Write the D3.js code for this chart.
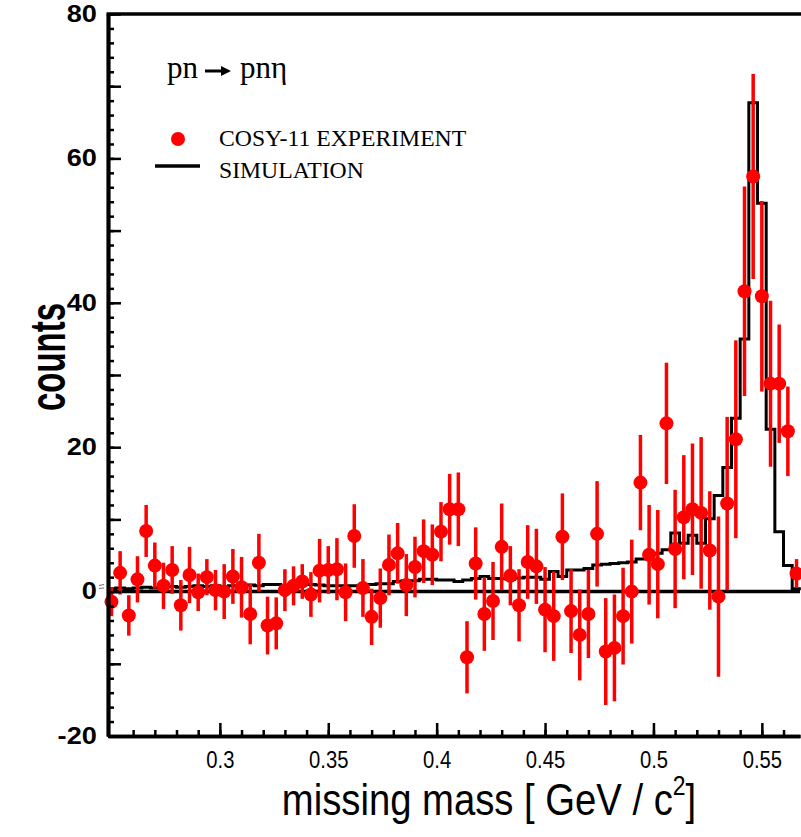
<!DOCTYPE html>
<html>
<head>
<meta charset="utf-8">
<script src="https://cdn.jsdelivr.net/npm/d3@7"></script>
<style>
    body { margin: 0; background: #fff; }
    svg { display: block; }
</style>
</head>
<body>
<svg width="801" height="837"></svg>
<script>
// bin centres of the missing mass spectrum [GeV/c^2]
var massX = [0.250, 0.254, 0.258, 0.262, 0.266, 0.270, 0.274, 0.278, 0.282, 0.286,
    0.290, 0.294, 0.298, 0.302, 0.306, 0.310, 0.314, 0.318, 0.322, 0.326,
    0.330, 0.334, 0.338, 0.342, 0.346, 0.350, 0.354, 0.358, 0.362, 0.366,
    0.370, 0.374, 0.378, 0.382, 0.386, 0.390, 0.394, 0.398, 0.402, 0.406,
    0.410, 0.414, 0.418, 0.422, 0.426, 0.430, 0.434, 0.438, 0.442, 0.446,
    0.450, 0.454, 0.458, 0.462, 0.466, 0.470, 0.474, 0.478, 0.482, 0.486,
    0.490, 0.494, 0.498, 0.502, 0.506, 0.510, 0.514, 0.518, 0.522, 0.526,
    0.530, 0.534, 0.538, 0.542, 0.546, 0.550, 0.554, 0.558, 0.562, 0.566];
var binWidth = 0.004;

// COSY-11 experiment
var expCounts = [-1.4, 2.6, -3.3, 1.7, 8.4, 3.6, 0.8, 3.0, -1.9, 2.3,
    -0.1, 2.0, 0.2, 0.0, 2.1, 0.6, -3.1, 4.0, -4.7, -4.4,
    0.2, 0.8, 1.4, -0.4, 2.9, 3.0, 3.1, -0.1, 7.7, 0.5,
    -3.5, -0.9, 3.7, 5.3, 0.9, 3.4, 5.6, 5.1, 8.3, 11.4,
    11.4, -9.1, 3.9, -3.1, -1.3, 6.2, 2.2, -1.9, 4.1, 3.5,
    -2.5, -3.4, 7.6, -2.7, -6.0, -3.1, 8.0, -8.3, -7.8, -3.4,
    0.0, 15.1, 5.1, 3.8, 23.3, 5.9, 10.3, 11.4, 10.9, 5.7,
    -0.7, 12.2, 21.1, 41.6, 57.5, 40.9, 28.8, 28.8, 22.2, 2.5];
var expErrors = [2.0, 3.0, 2.8, 3.2, 3.6, 3.2, 3.2, 3.3, 3.5, 3.9,
    2.6, 2.5, 2.8, 3.8, 3.8, 4.2, 4.2, 4.0, 4.0, 3.6,
    2.9, 2.7, 2.4, 3.1, 4.4, 3.3, 4.3, 4.0, 4.4, 4.0,
    3.9, 4.1, 4.2, 4.2, 4.3, 4.2, 4.4, 4.2, 4.1, 4.9,
    5.1, 5.0, 5.0, 5.1, 5.4, 6.0, 4.1, 5.0, 5.1, 5.2,
    5.9, 6.2, 6.0, 5.8, 6.3, 6.1, 7.3, 7.4, 7.4, 6.7,
    7.2, 6.6, 6.9, 7.5, 8.4, 8.2, 8.6, 9.1, 10.5, 8.2,
    11.1, 12.0, 13.7, 14.5, 14.2, 13.2, 11.5, 8.2, 6.2, 2.0];

// simulation histogram
var simCounts = [0.4, 0.5, 0.4, 0.5, 0.6, 0.5, 0.6, 0.7, 0.6, 0.7,
    0.8, 0.7, 0.8, 0.7, 0.8, 0.8, 0.9, 0.8, 1.0, 1.0,
    0.7, 0.9, 1.0, 1.0, 0.9, 0.8, 0.8, 0.8, 0.8, 0.8,
    1.0, 1.1, 1.1, 1.4, 1.5, 1.5, 1.7, 1.7, 1.6, 1.6,
    1.4, 1.6, 1.8, 2.1, 1.8, 1.8, 1.7, 1.9, 2.0, 2.0,
    1.7, 2.8, 2.1, 3.0, 3.0, 3.2, 3.7, 3.8, 3.9, 4.0,
    4.1, 4.5, 4.8, 5.3, 5.8, 8.1, 6.7, 7.8, 6.7, 10.1,
    13.3, 17.2, 24.0, 35.0, 67.7, 53.8, 22.5, 8.3, 3.6, 0.4];

var yLabelTicks = [-20, 0, 20, 40, 60, 80];
var yTickLabels = ["-20", "0", "20", "40", "60", "80"];
var yMidTicks = [-10, 10, 30, 50, 70];
var xTicks = [0.3, 0.35, 0.4, 0.45, 0.5, 0.55];
var xTickLabels = ["0.3", "0.35", "0.4", "0.45", "0.5", "0.55"];

var svg = d3.select("svg");
var plotLeft = 108, plotRight = 800, plotTop = 14, plotBottom = 736;

var x = d3.scaleLinear().domain([0.2484, 0.5676]).range([plotLeft, plotRight]);
var y = d3.scaleLinear().domain([-20, 80]).range([plotBottom, plotTop]);

var sans = "'Liberation Sans', Arial, sans-serif";
var serif = "'Liberation Serif', 'Times New Roman', serif";

// zero line
svg.append("line")
    .attr("x1", plotLeft).attr("x2", plotRight)
    .attr("y1", y(0)).attr("y2", y(0))
    .attr("stroke", "#000").attr("stroke-width", 3.5);

// simulation as step histogram
var steps = simCounts.map(function (v, i) { return [massX[i] - binWidth / 2, v]; });
steps.push([massX[massX.length - 1] + binWidth / 2, simCounts[simCounts.length - 1]]);
var stepLine = d3.line()
    .x(function (d) { return x(d[0]); })
    .y(function (d) { return y(d[1]); })
    .curve(d3.curveStepAfter);
svg.append("path")
    .datum(steps)
    .attr("d", stepLine)
    .attr("fill", "none")
    .attr("stroke", "#000")
    .attr("stroke-width", 3);

// experiment points with error bars
var expData = massX.map(function (m, i) { return { m: m, c: expCounts[i], e: expErrors[i] }; });
var pts = svg.append("g").attr("class", "points");
pts.selectAll("line")
    .data(expData)
    .enter()
    .append("line")
    .attr("x1", function (d) { return x(d.m); })
    .attr("x2", function (d) { return x(d.m); })
    .attr("y1", function (d) { return y(d.c - d.e); })
    .attr("y2", function (d) { return y(d.c + d.e); })
    .attr("stroke", "#ff0000")
    .attr("stroke-width", 3.5);
pts.selectAll("circle")
    .data(expData)
    .enter()
    .append("circle")
    .attr("cx", function (d) { return x(d.m); })
    .attr("cy", function (d) { return y(d.c); })
    .attr("r", 7)
    .attr("fill", "#ff0000");

// left axis: minor ticks every 2, longer ones every 10
var yMinor = d3.axisRight(y).tickValues(d3.range(-20, 81, 2)).tickSize(6).tickSizeOuter(0).tickFormat("");
var yMid = d3.axisRight(y).tickValues(yMidTicks).tickSize(13).tickSizeOuter(0).tickFormat("");
var yMajor = d3.axisLeft(y).tickValues(yLabelTicks).tickSize(-13).tickSizeOuter(0).tickPadding(9.5)
    .tickFormat(function (d, i) { return yTickLabels[i]; });

svg.append("g").attr("transform", "translate(" + plotLeft + ",0)").call(yMinor);
svg.append("g").attr("transform", "translate(" + plotLeft + ",0)").call(yMid);
var gy = svg.append("g").attr("transform", "translate(" + plotLeft + ",0)").call(yMajor);
gy.selectAll("text")
    .attr("font-family", sans)
    .attr("font-weight", "bold")
    .attr("font-size", 23)
    .attr("fill", "#000")
    .attr("transform", "scale(1.18,1)");

// bottom axis
var xMinor = d3.axisTop(x).tickValues(d3.range(0.26, 0.5676, 0.01)).tickSize(6).tickSizeOuter(0).tickFormat("");
var xMajor = d3.axisBottom(x).tickValues(xTicks).tickSize(-13).tickSizeOuter(0).tickPadding(16)
    .tickFormat(function (d, i) { return xTickLabels[i]; });
svg.append("g").attr("transform", "translate(0," + plotBottom + ")").call(xMinor);
var gx = svg.append("g").attr("transform", "translate(0," + plotBottom + ")").call(xMajor);
gx.selectAll("text")
    .attr("font-family", sans)
    .attr("font-size", 23)
    .attr("fill", "#000")
    .attr("transform", "scale(0.88,1)");

svg.selectAll(".tick line").attr("stroke", "#000").attr("stroke-width", 2.5);
svg.selectAll(".domain").attr("stroke", "#000").attr("stroke-width", 3.5);

// top frame line
svg.append("line")
    .attr("x1", plotLeft - 1.5).attr("x2", plotRight + 1)
    .attr("y1", plotTop).attr("y2", plotTop)
    .attr("stroke", "#000").attr("stroke-width", 3.5);

// little stray mark left of the zero tick
svg.append("path")
    .attr("d", "M99,585.5L104,584.5M99,588.5L104,588")
    .attr("stroke", "#777").attr("stroke-width", 1.2);

// axis titles
var xt = svg.append("text")
    .attr("transform", "translate(489,815) scale(0.85,1)")
    .attr("text-anchor", "middle")
    .attr("font-family", sans)
    .attr("font-size", 45)
    .attr("fill", "#000");
xt.append("tspan").text("missing mass [ GeV / c");
xt.append("tspan").attr("dy", -20).attr("font-size", 27).text("2");
xt.append("tspan").attr("dy", 20).text("]");

svg.append("text")
    .attr("transform", "translate(65,357) rotate(-90) scale(0.66,1)")
    .attr("text-anchor", "middle")
    .attr("font-family", sans)
    .attr("font-weight", "bold")
    .attr("font-size", 50)
    .attr("fill", "#000")
    .text("counts");

// reaction label
svg.append("text")
    .attr("x", 167).attr("y", 78)
    .attr("font-family", serif).attr("font-size", 31)
    .text("pn");
svg.append("line")
    .attr("x1", 205).attr("x2", 223).attr("y1", 71).attr("y2", 71)
    .attr("stroke", "#000").attr("stroke-width", 3);
svg.append("path")
    .attr("d", "M221,66L231,71L221,76Z")
    .attr("fill", "#000");
svg.append("text")
    .attr("x", 240).attr("y", 78)
    .attr("font-family", serif).attr("font-size", 31)
    .text("pnη");

// legend
svg.append("circle").attr("cx", 178).attr("cy", 139).attr("r", 7).attr("fill", "#ff0000");
svg.append("text")
    .attr("x", 219).attr("y", 146)
    .attr("font-family", serif).attr("font-size", 23.7)
    .text("COSY-11 EXPERIMENT");
svg.append("line")
    .attr("x1", 155).attr("x2", 200).attr("y1", 166).attr("y2", 166)
    .attr("stroke", "#000").attr("stroke-width", 3.5);
svg.append("text")
    .attr("x", 219).attr("y", 178)
    .attr("font-family", serif).attr("font-size", 23.7)
    .text("SIMULATION");
</script>
</body>
</html>
